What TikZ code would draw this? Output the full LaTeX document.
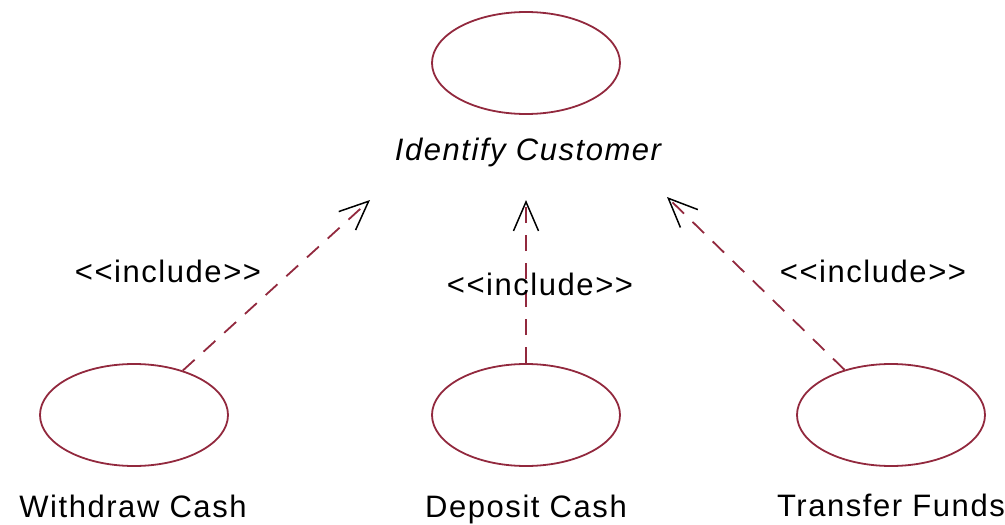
\documentclass[tikz,border=0pt]{standalone}
\usepackage{fontspec}
\usepackage{tikz}
\usetikzlibrary{shapes.geometric}
\usetikzlibrary{arrows.meta}
\newfontfamily\umlfont[LetterSpace=5,Ligatures=TeXOff]{Liberation Sans}
\definecolor{umlred}{RGB}{146,41,62}
\tikzset{
  umltext/.style = {inner sep=0pt, text centered,
    font={\umlfont\fontsize{31}{36}\selectfont}},% texte
  usecase/.style = {ellipse, draw=umlred, line width=1.8pt,
    minimum width=188pt, minimum height=102pt, inner sep=0pt},% cas d'utilisation
  usecase_name/.style = {umltext, anchor=base},% nom du cas
  include_edge/.style = {draw=umlred, line width=1.8pt,
    dash pattern=on 16pt off 12pt,
    -{Straight Barb[length=29pt, width=25pt, black, line width=1.5pt]}}% relation include
}

\begin{document}
\begin{tikzpicture}[x=1pt, y=-1pt]
    \useasboundingbox (0,0) rectangle (1005,525);
    % cas d'utilisation
    \node [usecase] (ident) at (526,63) {};
    \node [usecase] (withdraw) at (134,415) {};
    \node [usecase] (deposit) at (526,415) {};
    \node [usecase] (transfer) at (891,415) {};
    \node [usecase_name, font={\umlfont\itshape\fontsize{31}{36}\selectfont}]
      (ident_name) at (528,160) {Identify Customer};
    \node [usecase_name] (withdraw_name) at (133,517) {Withdraw Cash};
    \node [usecase_name] (deposit_name) at (526,517) {Deposit Cash};
    \node [usecase_name] (transfer_name) at (891,516) {Transfer Funds};
    % relations
    \coordinate (tip_w) at (370,200);
    \coordinate (tip_d) at (526,200);
    \coordinate (tip_t) at (667,197);
    \draw [include_edge] (withdraw) -- (tip_w);
    \draw [include_edge] (deposit) -- (tip_d);
    \draw [include_edge] (transfer) -- (tip_t);
    \node [usecase_name] (incl_w) at (168,282) {<<include>>};
    \node [usecase_name] (incl_d) at (540,295) {<<include>>};
    \node [usecase_name] (incl_t) at (873,282) {<<include>>};
  \end{tikzpicture}
\end{document}
